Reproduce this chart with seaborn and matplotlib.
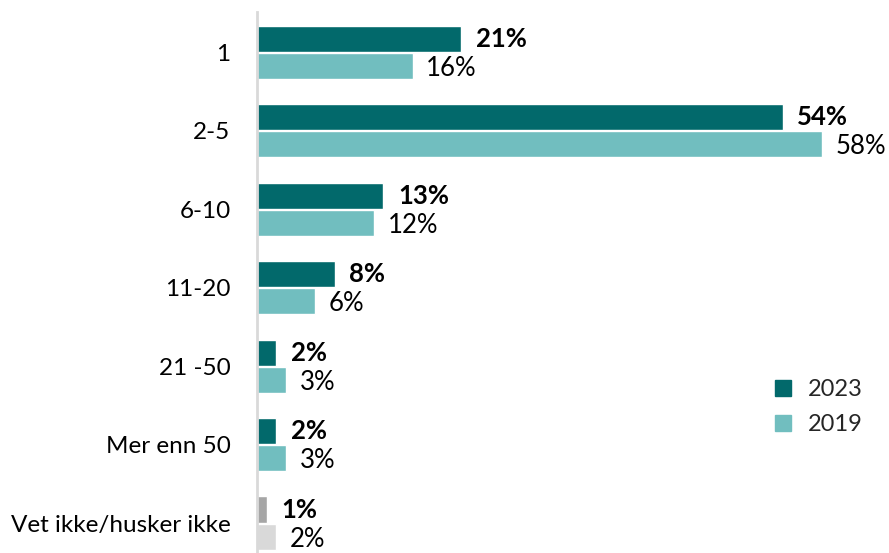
import pandas as pd
import numpy as np
import matplotlib
matplotlib.use("Agg")
import matplotlib.pyplot as plt
import seaborn as sns

categories = ['1', '2-5', '6-10', '11-20', '21 -50', 'Mer enn 50', 'Vet ikke/husker ikke']
years = ['2023', '2019']
values_2023 = [21, 54, 13, 8, 2, 2, 1]
values_2019 = [16, 58, 12, 6, 3, 3, 2]

sns.set_theme(style='white')
plt.rcParams['font.family'] = ['Lato', 'DejaVu Sans']

df = pd.DataFrame({
    'kategori': categories * 2,
    'aar': ['2023'] * len(categories) + ['2019'] * len(categories),
    'andel': values_2023 + values_2019,
})

colors = {'2023': '#02696B', '2019': '#71BEBF'}
grey = {'2023': '#A6A6A6', '2019': '#D9D9D9'}

fig = plt.figure(figsize=(8.89, 5.53), dpi=100)
ax = fig.add_axes([0.289, 0.0, 0.69, 0.978])

sns.barplot(data=df, y='kategori', x='andel', hue='aar', hue_order=years,
            order=categories, palette=colors, orient='h', width=0.69, gap=0.03,
            saturation=1, ax=ax, legend=False)

# recolour the last category grey and add labels
for cont, yr in zip(ax.containers, years):
    for i, bar in enumerate(cont.patches):
        if categories[i] == 'Vet ikke/husker ikke':
            bar.set_facecolor(grey[yr])
        w = bar.get_width()
        yc = bar.get_y() + bar.get_height() / 2
        if yr == '2023':
            ax.text(w + 1.5, yc, f'{w:.0f}%', va='center', ha='left',
                    fontsize=18.5, fontweight='bold', color='black')
        else:
            ax.text(w + 1.4, yc + 0.03, f'{w:.0f}%', va='center', ha='left',
                    fontsize=18.5, color='black')

ax.set_xlim(0, 63)
ax.set_ylim(6.38, -0.51)
ax.set_xlabel('')
ax.set_ylabel('')
ax.set_xticks([])
ax.tick_params(axis='y', length=0, pad=19, labelsize=17.5)
for lbl in ax.get_yticklabels():
    lbl.set_color('black')
for s in ['top', 'right', 'bottom']:
    ax.spines[s].set_visible(False)
ax.spines['left'].set_color('#D9D9D9')
ax.spines['left'].set_linewidth(2)

handles = [plt.Line2D([], [], marker='s', linestyle='', markersize=11,
                      color=colors[y]) for y in years]
ax.legend(handles, years, loc='center left', bbox_to_anchor=(0.785, 0.27),
          frameon=False, fontsize=17, handletextpad=0.05, labelspacing=0.6)

plt.savefig('out.png', dpi=100)
